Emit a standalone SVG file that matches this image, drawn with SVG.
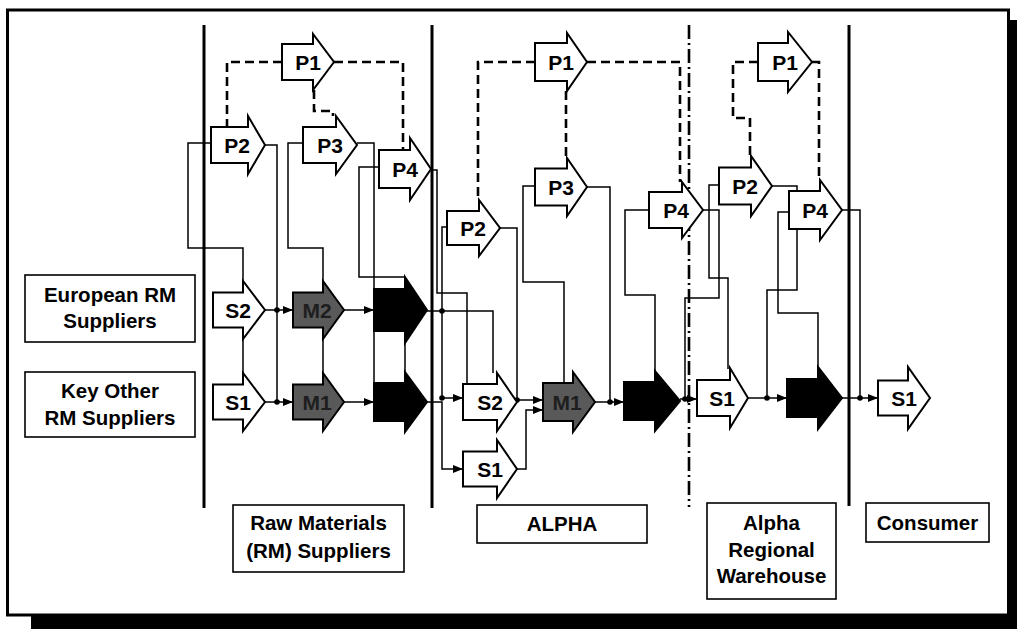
<svg xmlns="http://www.w3.org/2000/svg" width="1017" height="629" viewBox="0 0 1017 629">
<defs>
<style>
.shape{fill:#fff;stroke:#000;stroke-width:2;stroke-linejoin:miter}
.mk{fill:#595959;stroke:#000;stroke-width:2}
.dl{fill:#000;stroke:#000;stroke-width:2}
.lbl{font-family:"Liberation Sans",Arial,sans-serif;font-weight:bold;font-size:21px;text-anchor:middle;fill:#000}
.mtxt{font-family:"Liberation Sans",Arial,sans-serif;font-weight:bold;font-size:21px;text-anchor:middle;fill:#1e1e1e}
.box{fill:#fff;stroke:#000;stroke-width:1.6}
.btxt{font-family:"Liberation Sans",Arial,sans-serif;font-weight:bold;font-size:20.5px;text-anchor:middle;fill:#000}
.c{fill:none;stroke:#000;stroke-width:1.5}
.ca{fill:none;stroke:#000;stroke-width:1.5;marker-end:url(#ah)}
.d{fill:none;stroke:#000;stroke-width:2.6;stroke-dasharray:9 5}
.b{stroke:#000;stroke-width:3}
.dd{stroke:#000;stroke-width:2.6;stroke-dasharray:14 4 2 4}
</style>
<marker id="ah" markerWidth="10" markerHeight="8" refX="10" refY="4" orient="auto" markerUnits="userSpaceOnUse"><path d="M0,0 L10,4 L0,8 Z" fill="#000"/></marker>
</defs>
<rect width="1017" height="629" fill="#fff"/>
<rect x="1009" y="20" width="8" height="609" fill="#000"/>
<rect x="31" y="616" width="986" height="13" fill="#000"/>
<rect x="7.5" y="10" width="1001" height="605" fill="none" stroke="#000" stroke-width="3"/>

<g id="boundaries">
<line class="b" x1="204" y1="25" x2="204" y2="508"/>
<line class="b" x1="432" y1="25" x2="432" y2="508"/>
<line class="dd" x1="689" y1="25" x2="689" y2="507"/>
<line class="b" x1="849" y1="25" x2="849" y2="506"/>
</g>

<g id="connectors">
<path class="c" d="M211,143 H188 V248 H243 V281"/>
<path class="c" d="M243,339 V373"/>
<path class="c" d="M265,145 H277 V402"/>
<path class="c" d="M303,143 H288 V248 H323 V281"/>
<path class="c" d="M323,339 V373"/>
<path class="c" d="M357,143 H374 V402"/>
<path class="c" d="M379,167 H359 V277 H405"/>
<path class="c" d="M405,343 V372"/>
<path class="ca" d="M265,310 H293"/>
<path class="ca" d="M265,402 H293"/>
<path class="ca" d="M344,310 H374"/>
<path class="ca" d="M344,402 H374"/>
<path class="c" d="M431,170 H437 V293 H467 V384"/>
<path class="c" d="M427,311 H493 V373"/>
<path class="ca" d="M447,227 H442 V398 H463"/>
<path class="ca" d="M427,402 H442 V469 H463"/>
<path class="c" d="M500,228 H517 V400"/>
<path class="ca" d="M517,400 H543"/>
<path class="ca" d="M517,469 H526 V410 H543"/>
<path class="c" d="M535,186 H523 V282 H564 V383"/>
<path class="c" d="M587,187 H610 V402"/>
<path class="ca" d="M595,402 H624"/>
<path class="c" d="M649,210 H625 V295 H655 V371"/>
<path class="c" d="M703,210 H719 V298 H685 V399"/>
<path class="ca" d="M680,399 H697"/>
<path class="c" d="M719,185 H709 V278 H728 V369"/>
<path class="c" d="M772,186 H797 V290 H767 V398"/>
<path class="ca" d="M748,398 H787"/>
<path class="c" d="M789,212 H778 V313 H818 V367"/>
<path class="c" d="M842,210 H860 V398"/>
<path class="ca" d="M842,398 H878"/>
<path class="d" d="M282,62 H227 V127"/>
<path class="d" d="M334,62 H403 V150"/>
<path class="d" d="M314,90 V111 H333 V116"/>
<path class="d" d="M535,62 H478 V200"/>
<path class="d" d="M566,91 V158"/>
<path class="d" d="M587,62 H680 V182"/>
<path class="d" d="M758,62 H733 V118 H750 V156"/>
<path class="d" d="M812,62 H819 V180"/>
<g fill="#000">
<circle cx="277" cy="310" r="2.8"/>
<circle cx="277" cy="402" r="2.8"/>
<circle cx="442" cy="311" r="2.8"/>
<circle cx="442" cy="398" r="2.8"/>
<circle cx="517" cy="400" r="2.8"/>
<circle cx="610" cy="402" r="2.8"/>
<circle cx="685" cy="399" r="2.8"/>
<circle cx="767" cy="398" r="2.8"/>
<circle cx="860" cy="398" r="2.8"/>
</g>
</g>

<g id="rm-p1"><path class="shape" d="M282,44 H313 V34 L334,62 L313,90 V80 H282 Z"/><text class="lbl" x="308" y="70">P1</text></g>
<g id="rm-p2"><path class="shape" d="M211,127 H248 V116 L265,145 L248,174 V163 H211 Z"/><text class="lbl" x="237" y="153">P2</text></g>
<g id="rm-p3"><path class="shape" d="M303,127 H336 V116 L357,145 L336,174 V163 H303 Z"/><text class="lbl" x="330" y="153">P3</text></g>
<g id="rm-p4"><path class="shape" d="M379,150 H410 V138 L431,169 L410,200 V188 H379 Z"/><text class="lbl" x="405" y="177">P4</text></g>
<g id="rm-s2"><path class="shape" d="M213,292.5 H243 V281 L265,310 L243,339 V327.5 H213 Z"/><text class="lbl" x="238" y="318">S2</text></g>
<g id="rm-s1"><path class="shape" d="M213,384.5 H243 V373 L265,402 L243,431 V419.5 H213 Z"/><text class="lbl" x="238" y="410">S1</text></g>
<g id="rm-m2"><path class="mk" d="M293,292.5 H323 V281 L344,310 L323,339 V327.5 H293 Z"/><text class="mtxt" x="317" y="318">M2</text></g>
<g id="rm-m1"><path class="mk" d="M293,384.5 H323 V373 L344,402 L323,431 V419.5 H293 Z"/><text class="mtxt" x="317" y="410">M1</text></g>
<g id="rm-d2"><path class="dl" d="M374,289 H405 V277 L427,310 L405,343 V331 H374 Z"/></g>
<g id="rm-d1"><path class="dl" d="M374,383 H405 V372 L427,402 L405,432 V421 H374 Z"/></g>

<g id="a-p1"><path class="shape" d="M535,43 H567 V33 L587,62 L567,91 V81 H535 Z"/><text class="lbl" x="561" y="70">P1</text></g>
<g id="a-p2"><path class="shape" d="M447,211 H479 V200 L500,228 L479,256 V245 H447 Z"/><text class="lbl" x="473" y="236">P2</text></g>
<g id="a-p3"><path class="shape" d="M535,168.5 H567 V158 L587,187 L567,216 V205.5 H535 Z"/><text class="lbl" x="561" y="195">P3</text></g>
<g id="a-p4"><path class="shape" d="M649,192 H682 V182 L703,210 L682,238 V228 H649 Z"/><text class="lbl" x="676" y="218">P4</text></g>
<g id="a-s2"><path class="shape" d="M463,384 H497 V373 L517,402 L497,431 V420 H463 Z"/><text class="lbl" x="490" y="410">S2</text></g>
<g id="a-s1"><path class="shape" d="M463,451.5 H497 V440 L517,469 L497,498 V486.5 H463 Z"/><text class="lbl" x="490" y="477">S1</text></g>
<g id="a-m1"><path class="mk" d="M543,383 H573 V372 L595,402 L573,432 V421 H543 Z"/><text class="mtxt" x="567" y="410">M1</text></g>
<g id="a-d1"><path class="dl" d="M624,382 H655 V371 L680,401 L655,431 V420 H624 Z"/></g>

<g id="w-p1"><path class="shape" d="M758,43 H788 V32 L812,62 L788,92 V81 H758 Z"/><text class="lbl" x="785" y="70">P1</text></g>
<g id="w-p2"><path class="shape" d="M719,167.5 H751 V156 L772,186 L751,216 V204.5 H719 Z"/><text class="lbl" x="745" y="194">P2</text></g>
<g id="w-p4"><path class="shape" d="M789,191 H820 V180 L842,210 L820,240 V229 H789 Z"/><text class="lbl" x="815" y="218">P4</text></g>
<g id="w-s1"><path class="shape" d="M697,380 H730 V368 L748,398 L730,428 V416 H697 Z"/><text class="lbl" x="722" y="406">S1</text></g>
<g id="w-d1"><path class="dl" d="M787,379 H818 V367 L842,398 L818,429 V417 H787 Z"/></g>

<g id="c-s1"><path class="shape" d="M878,380.5 H908 V367 L930,398 L908,429 V415.5 H878 Z"/><text class="lbl" x="904" y="406">S1</text></g>

<g id="lbl-european"><rect class="box" x="25" y="275" width="170" height="67"/><text class="btxt" x="110" y="302">European RM</text><text class="btxt" x="110" y="328">Suppliers</text></g>
<g id="lbl-keyother"><rect class="box" x="25" y="372" width="170" height="65"/><text class="btxt" x="110" y="398">Key Other</text><text class="btxt" x="110" y="425">RM Suppliers</text></g>
<g id="lbl-rm"><rect class="box" x="233" y="505" width="171" height="67"/><text class="btxt" x="318.5" y="530">Raw Materials</text><text class="btxt" x="318.5" y="558">(RM) Suppliers</text></g>
<g id="lbl-alpha"><rect class="box" x="477" y="505" width="170" height="38"/><text class="btxt" x="562" y="531">ALPHA</text></g>
<g id="lbl-warehouse"><rect class="box" x="707" y="503" width="129" height="96"/><text class="btxt" x="771.5" y="530">Alpha</text><text class="btxt" x="771.5" y="557">Regional</text><text class="btxt" x="771.5" y="583">Warehouse</text></g>
<g id="lbl-consumer"><rect class="box" x="866" y="503" width="123" height="39"/><text class="btxt" x="927.5" y="530">Consumer</text></g>
</svg>
